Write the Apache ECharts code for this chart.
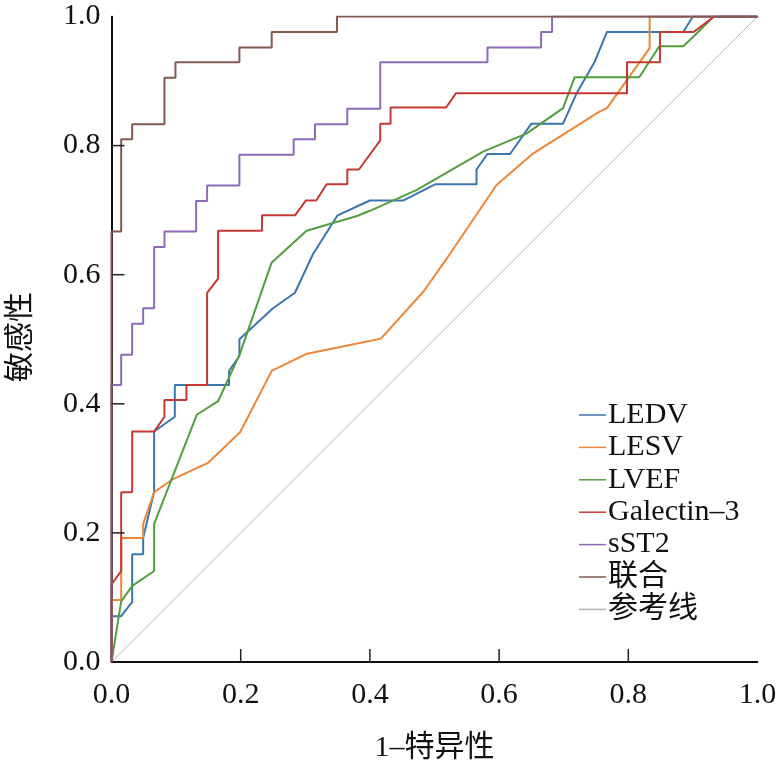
<!DOCTYPE html>
<html>
<head>
<meta charset="utf-8">
<script src="https://cdn.jsdelivr.net/npm/echarts@6/dist/echarts.min.js"></script>
<style>
html,body{margin:0;padding:0;background:#fff;}
#roc{width:779px;height:765px;}
</style>
</head>
<body>
<div id="roc"></div>
<script>
// ROC points: [1-特异性, 敏感性]
var ledv = [[0,0],[0,0.071],[0.015,0.071],[0.032,0.093],[0.032,0.167],[0.049,0.167],[0.049,0.192],[0.066,0.264],[0.066,0.357],[0.098,0.380],[0.098,0.429],[0.182,0.429],[0.182,0.451],[0.198,0.474],[0.198,0.500],[0.250,0.548],[0.284,0.572],[0.312,0.632],[0.350,0.692],[0.400,0.715],[0.452,0.715],[0.501,0.740],[0.565,0.740],[0.565,0.763],[0.582,0.787],[0.617,0.787],[0.650,0.834],[0.699,0.834],[0.720,0.881],[0.748,0.930],[0.767,0.976],[0.885,0.976],[0.900,1],[1,1]];
var lesv = [[0,0],[0,0.096],[0.015,0.096],[0.015,0.192],[0.049,0.192],[0.049,0.214],[0.066,0.263],[0.093,0.282],[0.150,0.309],[0.199,0.356],[0.248,0.451],[0.301,0.477],[0.354,0.488],[0.417,0.501],[0.483,0.574],[0.519,0.625],[0.596,0.739],[0.653,0.788],[0.694,0.814],[0.756,0.853],[0.767,0.858],[0.833,0.951],[0.833,1],[1,1]];
var lvef = [[0,0],[0.015,0.094],[0.032,0.118],[0.066,0.141],[0.066,0.214],[0.132,0.383],[0.165,0.404],[0.199,0.478],[0.248,0.619],[0.302,0.668],[0.380,0.691],[0.400,0.699],[0.472,0.731],[0.576,0.791],[0.643,0.819],[0.699,0.858],[0.717,0.906],[0.817,0.906],[0.848,0.954],[0.885,0.954],[0.901,0.969],[0.932,1],[1,1]];
var galectin = [[0,0],[0,0.120],[0.015,0.141],[0.015,0.263],[0.032,0.263],[0.032,0.357],[0.066,0.357],[0.082,0.380],[0.082,0.406],[0.116,0.406],[0.116,0.429],[0.148,0.429],[0.148,0.572],[0.165,0.594],[0.165,0.668],[0.233,0.668],[0.233,0.692],[0.284,0.692],[0.301,0.715],[0.317,0.715],[0.333,0.740],[0.365,0.740],[0.365,0.763],[0.383,0.763],[0.416,0.808],[0.416,0.834],[0.432,0.834],[0.432,0.859],[0.518,0.859],[0.533,0.881],[0.798,0.881],[0.798,0.929],[0.849,0.929],[0.849,0.976],[0.901,0.976],[0.933,1],[1,1]];
var sst2 = [[0,0],[0,0.429],[0.015,0.429],[0.015,0.476],[0.032,0.476],[0.032,0.524],[0.049,0.524],[0.049,0.548],[0.066,0.548],[0.066,0.643],[0.082,0.643],[0.082,0.667],[0.131,0.667],[0.131,0.714],[0.148,0.714],[0.148,0.738],[0.198,0.738],[0.198,0.786],[0.282,0.786],[0.282,0.810],[0.315,0.810],[0.315,0.833],[0.365,0.833],[0.365,0.857],[0.416,0.857],[0.416,0.929],[0.582,0.929],[0.582,0.952],[0.665,0.952],[0.665,0.976],[0.682,0.976],[0.682,1],[1,1]];
var combined = [[0,0],[0,0.667],[0.015,0.667],[0.015,0.810],[0.032,0.810],[0.032,0.833],[0.082,0.833],[0.082,0.905],[0.099,0.905],[0.099,0.929],[0.198,0.929],[0.198,0.952],[0.248,0.952],[0.248,0.976],[0.349,0.976],[0.349,1],[1,1]];
var refLine = [[0,0],[1,1]];
var tickValues = [0.2, 0.4, 0.6, 0.8];

var names = ['LEDV','LESV','LVEF','Galectin–3','sST2','联合','参考线'];
var datas = [ledv, lesv, lvef, galectin, sst2, combined, refLine];
var colors = ['#3b75af','#ef8636','#519e3e','#c53932','#8d69b8','#84584e','#b4b4b4'];

var fontFam = 'Liberation Serif, Times New Roman, Noto Sans CJK SC, serif';

var chart = echarts.init(document.getElementById('roc'));

var seriesList = [];
for (var i = 0; i < names.length; i++) {
    seriesList.push({
        name: names[i],
        type: 'line',
        data: datas[i],
        symbol: 'none',
        showSymbol: false,
        z: i == 6 ? 1 : 2,
        itemStyle: {color: colors[i]},
        lineStyle: {color: colors[i], width: i == 6 ? 1 : 2}
    });
}

// plain line for the top / right frame
function borderAxis(pos) {
    return {
        type: 'value', min: 0, max: 1, position: pos,
        axisLine: {show: true, lineStyle: {color: '#000', width: 1.5}},
        axisTick: {show: false}, axisLabel: {show: false}, splitLine: {show: false}
    };
}

var yName = {
    type: 'text', left: 6, top: 292, rotation: Math.PI / 2,
    style: {text: '敏感性', font: '30px Liberation Serif, Noto Sans CJK SC', fill: '#111'}
};

var option = {
    animation: false,
    grid: {left: 111.5, right: 21.5, top: 16.5, bottom: 103, outerBoundsMode: 'none'},
    legend: {
        data: names,
        orient: 'vertical',
        left: 574,
        top: 395,
        icon: 'rect',
        itemWidth: 27,
        itemHeight: 1.5,
        itemGap: 2.4,
        textStyle: {fontFamily: fontFam, fontSize: 30, color: '#111', lineHeight: 30, padding: [0,0,0,-3]}
    },
    graphic: [yName],
    xAxis: [{
        type: 'value', min: 0, max: 1, interval: 0.2, position: 'bottom',
        name: '1–特异性', nameLocation: 'middle', nameGap: 71,
        nameTextStyle: {fontFamily: fontFam, fontSize: 30, color: '#111'},
        axisLine: {show: true, lineStyle: {color: '#000', width: 1.5}},
        axisTick: {show: false},
        axisLabel: {fontFamily: fontFam, fontSize: 30, color: '#111', margin: 18,
            formatter: function (v) { return v.toFixed(1); }},
        splitLine: {show: false}
    }, borderAxis('top')],
    yAxis: [{
        type: 'value', min: 0, max: 1, interval: 0.2, position: 'left',
        axisLine: {show: true, lineStyle: {color: '#000', width: 1.5}},
        axisTick: {show: false},
        axisLabel: {fontFamily: fontFam, fontSize: 30, color: '#111', margin: 11,
            formatter: function (v) { return v.toFixed(1); }},
        splitLine: {show: false}
    }, borderAxis('right')],
    series: seriesList
};

chart.setOption(option);

// inside ticks, placed through the chart's own scales
var tickLen = 13;
var tickStyle = {stroke: '#222', lineWidth: 1.5};
var marks = [yName];
tickValues.forEach(function (v) {
    var px = chart.convertToPixel({xAxisIndex: 0, yAxisIndex: 0}, [v, 0]);
    marks.push({type: 'line', z: 50, shape: {x1: px[0], y1: px[1], x2: px[0], y2: px[1] - tickLen}, style: tickStyle});
    var py = chart.convertToPixel({xAxisIndex: 0, yAxisIndex: 0}, [0, v]);
    marks.push({type: 'line', z: 50, shape: {x1: py[0], y1: py[1], x2: py[0] + tickLen, y2: py[1]}, style: tickStyle});
});
chart.setOption({graphic: marks});

window.onresize = chart.resize;
</script>
</body>
</html>
